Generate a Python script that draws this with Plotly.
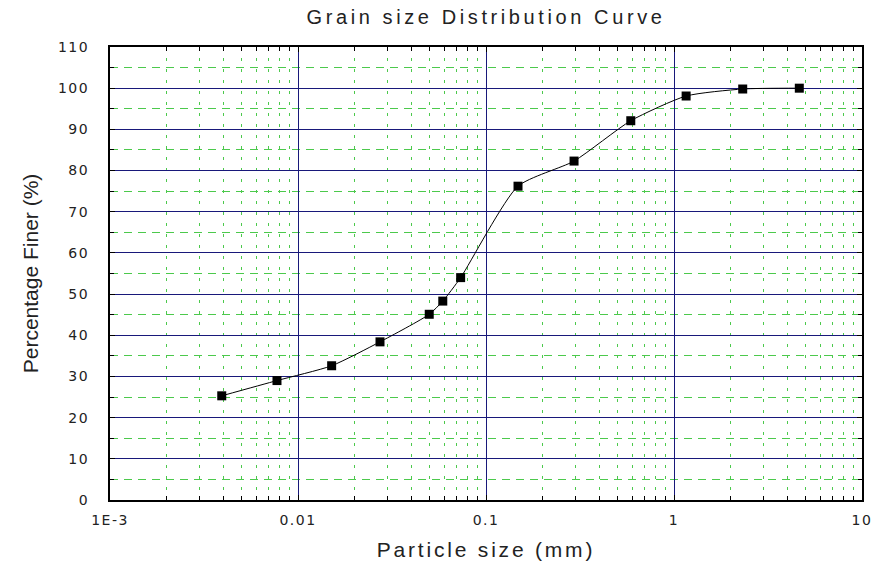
import plotly.graph_objects as go

particle_size_mm = [0.00393, 0.00773, 0.0151, 0.0273, 0.0499, 0.0589, 0.0733,
                    0.148, 0.294, 0.589, 1.16, 2.32, 4.64]
percent_finer = [25.3, 29.0, 32.6, 38.4, 45.1, 48.3, 54.0,
                 76.2, 82.3, 92.1, 98.1, 99.8, 100.0]

x_tick_vals = [0.001, 0.01, 0.1, 1, 10]
x_tick_text = ["1E-3", "0.01", "0.1", "1", "10"]
y_tick_vals = list(range(0, 111, 10))

major_grid = "#18187a"
minor_grid = "#4cc94c"
font_family = "Liberation Sans, Arial, sans-serif"
text_color = "#222222"

fig = go.Figure()
fig.add_trace(go.Scatter(
    x=particle_size_mm, y=percent_finer,
    mode="lines+markers",
    line=dict(color="black", width=1, shape="spline", smoothing=0.6),
    marker=dict(symbol="square", size=9, color="black"),
    showlegend=False,
))

fig.update_layout(
    width=874, height=567,
    margin=dict(l=110, r=12, t=47, b=67),
    paper_bgcolor="white", plot_bgcolor="white",
    font=dict(family=font_family, color=text_color, size=13),
    title=dict(text="Grain size Distribution Curve", x=0.5, xref="paper",
               y=0.97, yanchor="middle", xanchor="center",
               font=dict(size=20, color=text_color)),
)

fig.update_xaxes(
    type="log", range=[-3, 1], automargin=False,
    tickvals=x_tick_vals, ticktext=x_tick_text,
    showgrid=True, gridcolor=major_grid, gridwidth=1.2,
    showline=True, linecolor="black", linewidth=2, mirror="ticks",
    ticks="inside", ticklen=5, tickcolor="black",
    minor=dict(dtick="D1", showgrid=True, gridcolor=minor_grid, griddash="3px,8px",
               gridwidth=1, ticks="inside", ticklen=4, tickcolor="black"),
    tickfont=dict(size=14, family="DejaVu Sans, sans-serif"),
    ticklabelstandoff=6,
    title=dict(text="Particle size (mm)", font=dict(size=21), standoff=16),
    zeroline=False,
)
fig.update_yaxes(
    range=[0, 110], automargin=False,
    tickvals=y_tick_vals,
    showgrid=True, gridcolor=major_grid, gridwidth=1.2,
    showline=True, linecolor="black", linewidth=2, mirror="ticks",
    ticks="inside", ticklen=5, tickcolor="black",
    minor=dict(dtick=5, showgrid=True, gridcolor=minor_grid, griddash="8px,6px",
               gridwidth=1, ticks="inside", ticklen=4, tickcolor="black"),
    tickfont=dict(size=14, family="DejaVu Sans, sans-serif"),
    ticklabelstandoff=16,
    title=dict(text="Percentage Finer (%)", font=dict(size=21), standoff=18),
    zeroline=False,
)

post = (
    "document.body.style.margin='0';"
    "var s=document.createElement('style');"
    "s.textContent='.gtitle{letter-spacing:3.6px}"
    " .xtitle{letter-spacing:2.8px}"
    " .xtick text,.ytick text{letter-spacing:1.5px}"
    " .gridlayer path{shape-rendering:crispEdges}';"
    "document.head.appendChild(s);"
)

fig.write_html("out.html", post_script=post, config={"displayModeBar": False})
